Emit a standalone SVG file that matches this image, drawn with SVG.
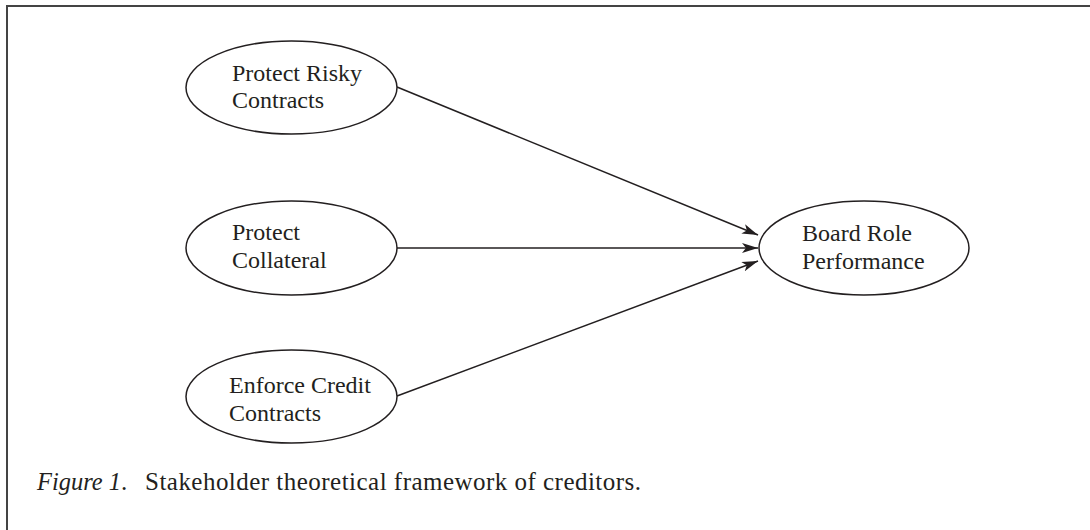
<svg xmlns="http://www.w3.org/2000/svg" width="1090" height="530" viewBox="0 0 1090 530">
<defs>
<style>
.node ellipse{fill:#fff;stroke:#231f20;stroke-width:1.5}
.node text{font-family:"Liberation Serif","Times New Roman",serif;font-size:24px;fill:#231f20}
.cap{font-family:"Liberation Serif","Times New Roman",serif;font-size:25px;fill:#231f20}
.edge{stroke:#231f20;stroke-width:1.5;fill:none;marker-end:url(#arr)}
</style>
<marker id="arr" viewBox="0 0 16 10" markerWidth="16" markerHeight="10" refX="16" refY="5" orient="auto" markerUnits="userSpaceOnUse">
<path d="M0,0 L16,5 L0,10 L4,5 z" fill="#231f20"/>
</marker>
</defs>
<rect width="1090" height="530" fill="#fff"/>
<path d="M7,530 V6 H1090" fill="none" stroke="#444" stroke-width="2"/>
<g id="connectors">
<line class="edge" x1="397" y1="87" x2="758" y2="235"/>
<line class="edge" x1="397" y1="248" x2="758" y2="248"/>
<line class="edge" x1="397" y1="396" x2="758" y2="261"/>
</g>
<g id="n1" class="node">
<ellipse cx="291.5" cy="87.5" rx="105.5" ry="46.5"/>
<text x="232" y="81">Protect Risky</text>
<text x="232" y="108">Contracts</text>
</g>
<g id="n2" class="node">
<ellipse cx="291.5" cy="248" rx="105.5" ry="47"/>
<text x="232" y="240">Protect</text>
<text x="232" y="268">Collateral</text>
</g>
<g id="n3" class="node">
<ellipse cx="291.5" cy="396.5" rx="105.5" ry="46.5"/>
<text x="229" y="393">Enforce Credit</text>
<text x="229" y="421">Contracts</text>
</g>
<g id="n4" class="node">
<ellipse cx="864" cy="248" rx="105" ry="47"/>
<text x="802" y="241">Board Role</text>
<text x="802" y="269">Performance</text>
</g>
<g id="caption">
<text class="cap" x="37" y="490" font-style="italic" textLength="84" lengthAdjust="spacingAndGlyphs">Figure 1</text>
<text class="cap" x="121" y="490">.</text>
<text class="cap" x="145" y="490" textLength="496" lengthAdjust="spacing">Stakeholder theoretical framework of creditors.</text>
</g>
</svg>
